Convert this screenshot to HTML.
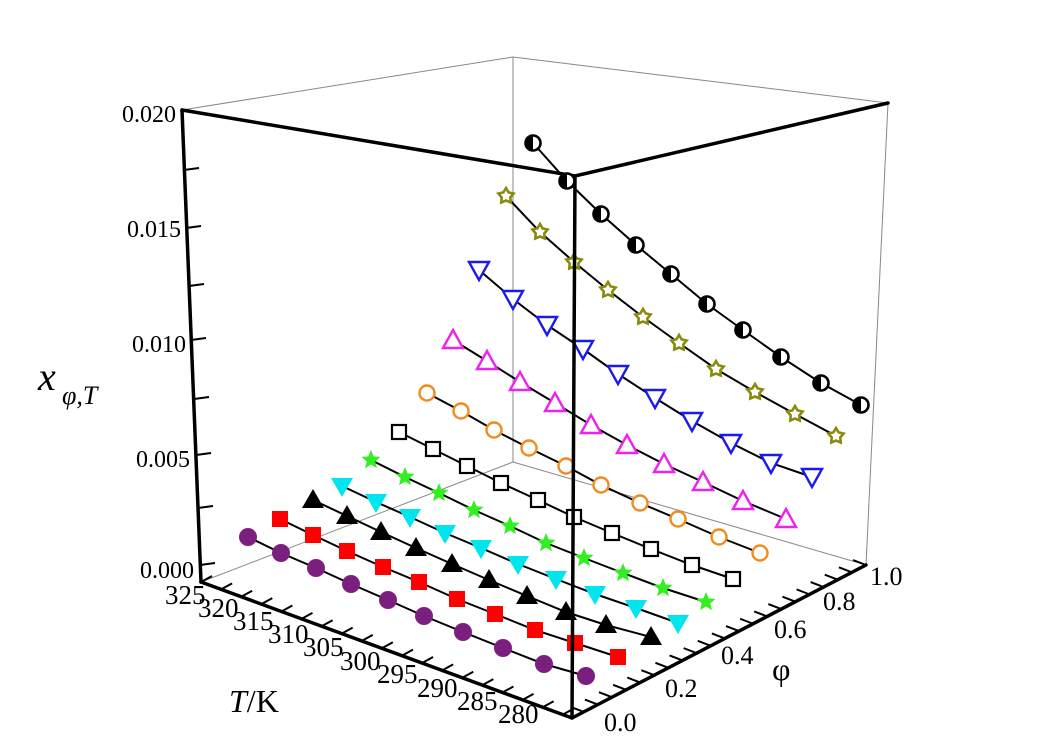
<!DOCTYPE html>
<html><head><meta charset="utf-8"><style>
html,body{margin:0;padding:0;background:#fff;}
svg{display:block;}
text{font-family:"Liberation Serif","Times New Roman",serif;}
</style></head><body>
<svg id="s" width="1037" height="747" viewBox="0 0 1037 747" xmlns="http://www.w3.org/2000/svg" font-family="Liberation Serif, serif">
<g stroke="#888" stroke-width="1" fill="none">
<polyline points="182,110 513,57 888,103"/>
<line x1="513" y1="57" x2="513" y2="462"/>
<line x1="201" y1="582" x2="513" y2="462"/>
<line x1="513" y1="462" x2="866" y2="565"/>
<line x1="888" y1="103" x2="866" y2="565"/>
</g>
<g stroke="#000" stroke-width="3.5" fill="none" stroke-linecap="round">
<polyline points="182,110 575,176 888,103"/>
<line x1="182" y1="110" x2="201" y2="582"/>
<line x1="201" y1="582" x2="572" y2="718"/>
<line x1="572" y1="718" x2="866" y2="565"/>
</g>
<g id="ticks" stroke="#000" stroke-width="2"></g>
<g id="data"></g>
<line x1="575" y1="176" x2="572" y2="718" stroke="#000" stroke-width="3.5"/>
<g font-size="24" fill="#000" font-family="Liberation Serif, serif">
<text x="176" y="122" text-anchor="end">0.020</text>
<text x="181" y="237" text-anchor="end">0.015</text>
<text x="186" y="352" text-anchor="end">0.010</text>
<text x="190" y="467" text-anchor="end">0.005</text>
<text x="194" y="578" text-anchor="end">0.000</text>
<text x="38" y="390" font-size="40" font-style="italic">x</text>
<text x="62" y="404" font-size="26" font-style="italic">φ,T</text>
<text x="229" y="712" font-size="32"><tspan font-style="italic">T</tspan>/K</text>
<text x="772" y="680" font-size="32">φ</text>
<text x="604" y="731" font-size="26">0.0</text>
<text x="665" y="697" font-size="26">0.2</text>
<text x="721" y="664" font-size="26">0.4</text>
<text x="774" y="638" font-size="26">0.6</text>
<text x="823" y="610" font-size="26">0.8</text>
<text x="870" y="585" font-size="26">1.0</text>
</g>
<g id="tl" font-size="27" font-family="Liberation Serif, serif"></g>
</svg>
<script>
const NS="http://www.w3.org/2000/svg";
function el(tag,attrs,parent){const e=document.createElementNS(NS,tag);for(const k in attrs)e.setAttribute(k,attrs[k]);parent.appendChild(e);return e;}
const ticks=document.getElementById('ticks'),data=document.getElementById('data'),tl=document.getElementById('tl');
[[184,170],[186,228],[189,286],[191,340],[194,399],[196,455],[198,508],[200,565]].forEach(p=>{
 el('line',{x1:p[0],y1:p[1],x2:p[0]+15,y2:p[1]-2},ticks);});
const L0=[201,582],F0=[572,718];
for(let i=0;i<=18;i++){const T=325-i*2.5;const f=(325-T)/45*0.975;
 const x=L0[0]+f*(F0[0]-L0[0]),y=L0[1]+f*(F0[1]-L0[1]);
 el('line',{x1:x,y1:y,x2:x+11,y2:y-6},ticks);}
const tlab=[[185,604,'325'],[218,617,'320'],[253,630,'315'],[288,643,'310'],[323,656,'305'],[360,670,'300'],[397,683,'295'],[437,697,'290'],[477,710,'285'],[518,723,'280']];
tlab.forEach(t=>{const e=el('text',{x:t[0]-20,y:t[1]},tl);e.textContent=t[2];});
const R0=[866,565];
for(let i=0;i<=20;i++){const ph=i*0.05;const f=0.04+ph*0.96;
 const x=F0[0]+f*(R0[0]-F0[0]),y=F0[1]+f*(R0[1]-F0[1]);
 el('line',{x1:x,y1:y,x2:x-13,y2:y-5},ticks);}
const S=[
 ['circ','#7b1f7f',[[248,537],[281,553],[316,568],[351,584],[388,600],[424,616],[463,632],[503,648],[544,664],[586,676]]],
 ['sq','#ff0000',[[280,519],[313,535],[347,551],[383,567],[419,582],[457,599],[495,614],[535,630],[575,643],[618,657]]],
 ['tri','#000',[[313,500],[347,516],[381,532],[416,548],[452,564],[489,580],[527,596],[566,612],[606,625],[651,637]]],
 ['dtri','#00e5ee',[[342,486],[376,502],[410,517],[445,533],[481,548],[518,564],[556,579],[595,594],[636,608],[678,623]]],
 ['star','#33ee22',[[371,460],[405,477],[439,493],[474,510],[510,526],[546,543],[584,558],[623,573],[663,588],[706,602]]],
 ['osq','#000',[[399,432],[433,449],[467,466],[501,483],[538,500],[574,517],[612,533],[651,549],[692,565],[733,579]]],
 ['ocirc','#f28a1e',[[427,393],[461,411],[494,430],[529,448],[566,466],[601,485],[640,503],[678,519],[719,537],[760,553]]],
 ['otri','#ee22ee',[[453,340],[487,361],[520,382],[555,403],[591,425],[627,445],[664,464],[703,482],[743,501],[786,519]]],
 ['odtri','#1a1aee',[[479,270],[513,299],[547,325],[583,349],[618,374],[655,398],[692,421],[731,443],[771,463],[812,477]]],
 ['ostar','#8a8a10',[[506,196],[540,232],[574,262],[608,290],[643,317],[679,343],[716,369],[755,392],[795,414],[836,436]]],
 ['half','#000',[[533,143],[567,181],[601,214],[636,245],[671,274],[707,304],[743,330],[781,357],[821,383],[861,405]]]
];
function star(x,y,R,r){let p=[];for(let i=0;i<10;i++){const a=-Math.PI/2+i*Math.PI/5;const rr=i%2?r:R;p.push((x+rr*Math.cos(a)).toFixed(1)+','+(y+rr*Math.sin(a)).toFixed(1));}return p.join(' ');}
S.forEach(s=>{
 el('polyline',{points:s[2].map(p=>p.join(',')).join(' '),fill:'none',stroke:'#000','stroke-width':2},data);
 const c=s[1];
 s[2].forEach(([x,y])=>{
  switch(s[0]){
   case 'circ':el('circle',{cx:x,cy:y,r:9,fill:c},data);break;
   case 'sq':el('rect',{x:x-8,y:y-8,width:16,height:16,fill:c},data);break;
   case 'tri':el('polygon',{points:`${x},${y-11} ${x+11},${y+8} ${x-11},${y+8}`,fill:c},data);break;
   case 'dtri':el('polygon',{points:`${x-11},${y-8} ${x+11},${y-8} ${x},${y+11}`,fill:c},data);break;
   case 'star':el('polygon',{points:star(x,y,10,4.5),fill:c},data);break;
   case 'osq':el('rect',{x:x-7,y:y-7,width:14,height:14,fill:'#fff',stroke:c,'stroke-width':2.2},data);break;
   case 'ocirc':el('circle',{cx:x,cy:y,r:7.5,fill:'#fff',stroke:c,'stroke-width':2.4},data);break;
   case 'otri':el('polygon',{points:`${x},${y-10} ${x+10},${y+8} ${x-10},${y+8}`,fill:'#fff',stroke:c,'stroke-width':2.4},data);break;
   case 'odtri':el('polygon',{points:`${x-10},${y-8} ${x+10},${y-8} ${x},${y+10}`,fill:'#fff',stroke:c,'stroke-width':2.4},data);break;
   case 'ostar':el('polygon',{points:star(x,y,8,4.5),fill:'#fff',stroke:c,'stroke-width':2.6},data);break;
   case 'half':el('circle',{cx:x,cy:y,r:7.5,fill:'#fff',stroke:c,'stroke-width':2.6},data);
     el('path',{d:`M${x},${y-7.5} A7.5,7.5 0 0 0 ${x},${y+7.5} Z`,fill:c},data);break;
  }
 });
});
</script>
</body></html>
